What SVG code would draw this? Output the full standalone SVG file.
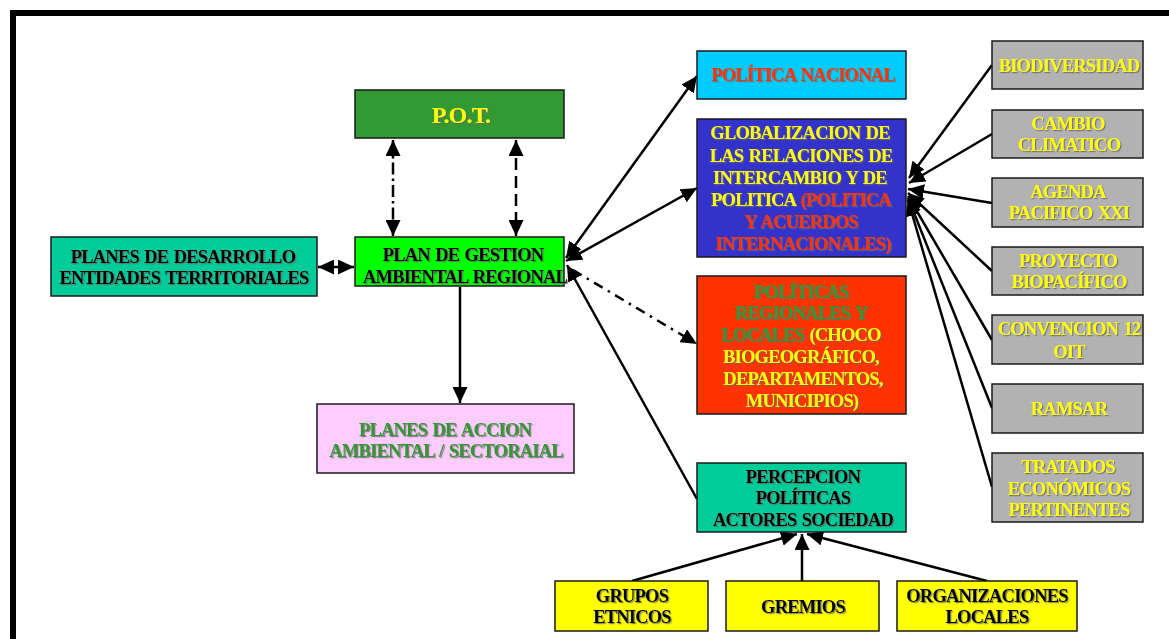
<svg xmlns="http://www.w3.org/2000/svg" width="1169" height="639" viewBox="0 0 1169 639">
<defs>
<style>
.box{stroke:#1a1a1a;stroke-width:1.5}
.t{font-family:"Liberation Serif","Times New Roman",serif;font-weight:bold;font-size:18.5px;letter-spacing:-0.8px;word-spacing:1.5px;text-anchor:middle;filter:url(#sh)}
.k{fill:#000}
.y{fill:#ffff00}
.r{fill:#ff3300}
.g{fill:#339933}
.ln{stroke:#000;stroke-width:2.5;fill:none}
</style>
<filter id="sh" x="-5%" y="-20%" width="110%" height="140%">
<feDropShadow dx="1.2" dy="1.2" stdDeviation="0.2" flood-color="#666" flood-opacity="0.8"/>
</filter>
<marker id="ah" markerUnits="userSpaceOnUse" markerWidth="17" markerHeight="15" refX="16" refY="7.5" orient="auto-start-reverse">
<path d="M0,0 L16,7.5 L0,15 z" fill="#000"/>
</marker>
</defs>
<rect x="0" y="0" width="1169" height="639" fill="#fff"/>
<rect x="13" y="13" width="1200" height="700" fill="none" stroke="#000" stroke-width="6"/>

<g id="connectors">
<line class="ln" x1="393" y1="140" x2="393" y2="236" stroke-dasharray="12,4,2.5,4" marker-start="url(#ah)" marker-end="url(#ah)"/>
<line class="ln" x1="516" y1="140" x2="516" y2="236" stroke-dasharray="12,6" marker-start="url(#ah)" marker-end="url(#ah)"/>
<line class="ln" x1="318" y1="267" x2="354" y2="267" marker-start="url(#ah)" marker-end="url(#ah)"/>
<line class="ln" x1="460" y1="287" x2="460" y2="403" marker-end="url(#ah)"/>
<line class="ln" x1="566" y1="258" x2="697" y2="76" marker-start="url(#ah)" marker-end="url(#ah)"/>
<line class="ln" x1="566" y1="261" x2="697" y2="188" marker-start="url(#ah)" marker-end="url(#ah)"/>
<line class="ln" x1="697" y1="499" x2="567" y2="265" marker-end="url(#ah)"/>
<line class="ln" x1="573" y1="270" x2="697" y2="344" stroke-dasharray="10,6,2.5,6" marker-end="url(#ah)"/>
<line class="ln" x1="992" y1="65" x2="909" y2="178" marker-end="url(#ah)"/>
<line class="ln" x1="992" y1="134" x2="909" y2="183" marker-end="url(#ah)"/>
<line class="ln" x1="992" y1="203" x2="908" y2="189" marker-end="url(#ah)"/>
<line class="ln" x1="992" y1="271" x2="908" y2="193" marker-end="url(#ah)"/>
<line class="ln" x1="992" y1="340" x2="908" y2="196" marker-end="url(#ah)"/>
<line class="ln" x1="992" y1="408" x2="908" y2="198" marker-end="url(#ah)"/>
<line class="ln" x1="992" y1="487" x2="908" y2="200" marker-end="url(#ah)"/>
<line class="ln" x1="632" y1="581" x2="797" y2="534" marker-end="url(#ah)"/>
<line class="ln" x1="802" y1="581" x2="802" y2="534" marker-end="url(#ah)"/>
<line class="ln" x1="987" y1="581" x2="807" y2="534" marker-end="url(#ah)"/>
</g>

<g id="pot">
<rect class="box" x="355" y="90" width="209" height="48" fill="#339933"/>
<text class="t y" x="461" y="123" style="font-size:24px">P.O.T.</text>
</g>
<g id="pgar">
<rect class="box" x="355" y="237" width="209" height="49" fill="#00ff00"/>
<text class="t k" x="463" y="261">PLAN DE GESTION</text>
<text class="t k" x="465" y="283">AMBIENTAL REGIONAL</text>
</g>
<g id="pdet">
<rect class="box" x="51" y="237" width="266" height="59" fill="#00cc99"/>
<text class="t k" x="183" y="263">PLANES DE DESARROLLO</text>
<text class="t k" x="184" y="284">ENTIDADES TERRITORIALES</text>
</g>
<g id="paa">
<rect class="box" x="317" y="404" width="257" height="69" fill="#ffccff"/>
<text class="t g" x="445" y="436">PLANES DE ACCION</text>
<text class="t g" x="446" y="457">AMBIENTAL / SECTORAIAL</text>
</g>
<g id="pn">
<rect class="box" x="697" y="51" width="209" height="48" fill="#00ccff"/>
<text class="t r" x="803" y="81">POLÍTICA NACIONAL</text>
</g>
<g id="glob">
<rect class="box" x="697" y="119" width="209" height="138" fill="#3333cc"/>
<text class="t y" x="800" y="139">GLOBALIZACION DE</text>
<text class="t y" x="801" y="162">LAS RELACIONES DE</text>
<text class="t y" x="800" y="184">INTERCAMBIO Y DE</text>
<text class="t y" x="801" y="206">POLITICA <tspan class="r">(POLITICA</tspan></text>
<text class="t r" x="801" y="228">Y ACUERDOS</text>
<text class="t r" x="803" y="250">INTERNACIONALES)</text>
</g>
<g id="preg">
<rect class="box" x="697" y="276" width="209" height="138" fill="#ff3300"/>
<text class="t g" x="801" y="298">POLÍTICAS</text>
<text class="t g" x="801" y="319">REGIONALES Y</text>
<text class="t g" x="801" y="341">LOCALES <tspan class="y">(CHOCO</tspan></text>
<text class="t y" x="801" y="363">BIOGEOGRÁFICO,</text>
<text class="t y" x="803" y="385">DEPARTAMENTOS,</text>
<text class="t y" x="802" y="407">MUNICIPIOS)</text>
</g>
<g id="perc">
<rect class="box" x="697" y="463" width="209" height="69" fill="#00cc99"/>
<text class="t k" x="803" y="483">PERCEPCION</text>
<text class="t k" x="803" y="504">POLÍTICAS</text>
<text class="t k" x="803" y="526">ACTORES SOCIEDAD</text>
</g>
<g id="bio">
<rect class="box" x="992" y="41" width="151" height="48" fill="#b2b2b2"/>
<text class="t y" x="1069" y="72">BIODIVERSIDAD</text>
</g>
<g id="cambio">
<rect class="box" x="992" y="110" width="151" height="48" fill="#b2b2b2"/>
<text class="t y" x="1068" y="130">CAMBIO</text>
<text class="t y" x="1069" y="151">CLIMATICO</text>
</g>
<g id="agenda">
<rect class="box" x="992" y="178" width="151" height="49" fill="#b2b2b2"/>
<text class="t y" x="1068" y="198">AGENDA</text>
<text class="t y" x="1069" y="219">PACIFICO XXI</text>
</g>
<g id="proyecto">
<rect class="box" x="992" y="247" width="151" height="48" fill="#b2b2b2"/>
<text class="t y" x="1068" y="267">PROYECTO</text>
<text class="t y" x="1069" y="288">BIOPACÍFICO</text>
</g>
<g id="convencion">
<rect class="box" x="992" y="315" width="151" height="49" fill="#b2b2b2"/>
<text class="t y" x="1069" y="335">CONVENCION 12</text>
<text class="t y" x="1069" y="358">OIT</text>
</g>
<g id="ramsar">
<rect class="box" x="992" y="384" width="151" height="49" fill="#b2b2b2"/>
<text class="t y" x="1069" y="415">RAMSAR</text>
</g>
<g id="tratados">
<rect class="box" x="992" y="453" width="151" height="69" fill="#b2b2b2"/>
<text class="t y" x="1068" y="473">TRATADOS</text>
<text class="t y" x="1069" y="495">ECONÓMICOS</text>
<text class="t y" x="1069" y="516">PERTINENTES</text>
</g>
<g id="grupos">
<rect class="box" x="555" y="581" width="153" height="50" fill="#ffff00"/>
<text class="t k" x="632" y="602">GRUPOS</text>
<text class="t k" x="632" y="623">ETNICOS</text>
</g>
<g id="gremios">
<rect class="box" x="726" y="581" width="153" height="50" fill="#ffff00"/>
<text class="t k" x="803" y="613">GREMIOS</text>
</g>
<g id="organizaciones">
<rect class="box" x="897" y="581" width="180" height="50" fill="#ffff00"/>
<text class="t k" x="987" y="602">ORGANIZACIONES</text>
<text class="t k" x="987" y="623">LOCALES</text>
</g>
</svg>
